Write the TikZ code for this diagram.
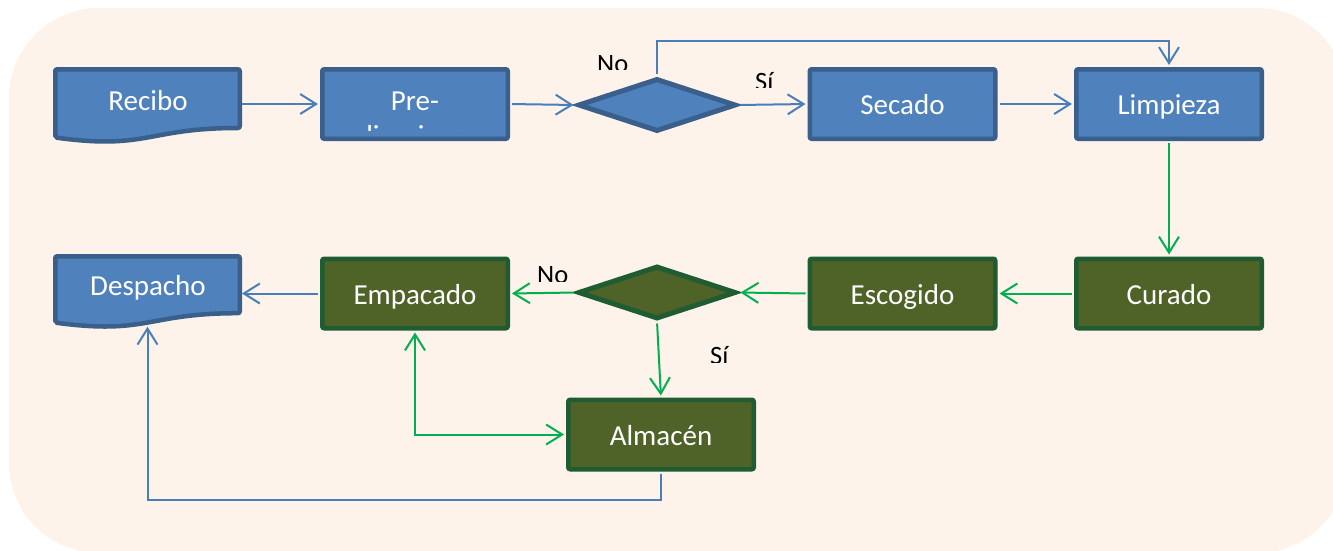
\documentclass[tikz,border=0pt]{standalone}
\usepackage{fontspec}
\setmainfont{Carlito}
\usetikzlibrary{arrows.meta,shapes.geometric}
\definecolor{bgc}{HTML}{FEF3EA}
\definecolor{bfill}{HTML}{4F81BD}
\definecolor{bdraw}{HTML}{3A5F8B}
\definecolor{gfill}{HTML}{4F6228}
\definecolor{gdraw}{HTML}{1F5C32}
\definecolor{glinec}{HTML}{00B050}
\definecolor{blinec}{HTML}{4A7EBB}
\newcommand\bxfont{\fontsize{29}{35}\selectfont}
\newcommand\lbfont{\fontsize{26.5}{31}\selectfont}
\tikzset{
  proc/.style={rectangle, line width=4.5pt, rounded corners=2pt,
    minimum width=185.5pt, minimum height=69.5pt, inner sep=0pt,
    text=white, font=\bxfont, text height=21pt, text depth=0pt},
  bluebox/.style={proc, draw=bdraw, fill=bfill},
  greenbox/.style={proc, draw=gdraw, fill=gfill},
  dec/.style={diamond, line width=5pt, minimum width=158pt, minimum height=53pt, inner sep=0pt},
  bdec/.style={dec, draw=bdraw, fill=bfill},
  gdec/.style={dec, draw=gdraw, fill=gfill},
  docshape/.style={line width=4.5pt, draw=bdraw, fill=bfill, rounded corners=2pt},
  ghost/.style={rectangle, inner sep=0pt, minimum width=184.5pt},
  doctext/.style={text=white, font=\bxfont, anchor=base},
  lbl/.style={text=black, font=\lbfont, inner sep=0pt},
  tipstyle/.style={-{Straight Barb[length=16pt,width=20pt]}},
  bconn/.style={draw=blinec, line width=2pt, tipstyle, shorten >=2pt, shorten <=2pt},
  gconn/.style={draw=glinec, line width=2pt, tipstyle, shorten >=2pt, shorten <=2pt},
}
\begin{document}
\begin{tikzpicture}[x=1pt,y=-1pt]
\useasboundingbox (0,0) rectangle (1333,550);
\fill[bgc, rounded corners=90pt] (9,8) rectangle (1347,553);

% document shapes
\draw[docshape] (55.25,69.25) -- (239.75,69.25) -- (239.75,128.0)
  .. controls (147.5,128.0) and (147.5,150.0) .. (55.25,137.5) -- cycle;
\node[ghost, minimum height=70pt] (recibo) at (147.5,104) {};
\node[doctext] (recibotext) at (148,110) {Recibo};

\draw[docshape] (55.25,256.25) -- (239.75,256.25) -- (239.75,313.2)
  .. controls (147.5,313.2) and (147.5,334.9) .. (55.25,322.6) -- cycle;
\node[ghost, minimum height=68pt] (desp) at (147.5,290.5) {};
\node[doctext] (desptext) at (148,295) {Despacho};

% top row
\node[bluebox] (pre) at (415,104) {};
\node[doctext] (pretext) at (415,110) {Pre-};
\begin{scope}
  \clip (330,112) rectangle (500,130);
  \node[doctext] (pretext2) at (415,145) {limpieza};
\end{scope}
\node[bdec] (d1) at (657,105) {};
\node[bluebox] (sec) at (902.5,104) {Secado};
\node[bluebox] (lim) at (1169,104) {Limpieza};

% bottom row
\node[greenbox] (emp) at (415,293.5) {Empacado};
\node[gdec] (d2) at (657,292.5) {};
\node[greenbox] (esc) at (902.5,293.5) {Escogido};
\node[greenbox] (cur) at (1169,293.5) {Curado};
\node[greenbox] (alm) at (661,434.5) {Almac\'en};

% labels (clipped as in the picture)
\begin{scope}
  \clip (590,40) rectangle (640,69);
  \node[lbl, anchor=base west] (no1) at (597,72) {No};
\end{scope}
\begin{scope}
  \clip (745,60) rectangle (790,87);
  \node[lbl, anchor=base west] (si1) at (755,90) {S\'i};
\end{scope}
\begin{scope}
  \clip (530,255) rectangle (575,281.5);
  \node[lbl, anchor=base west] (no2) at (537,283) {No};
\end{scope}
\begin{scope}
  \clip (700,335) rectangle (745,362);
  \node[lbl, anchor=base west] (si2) at (710,364) {S\'i};
\end{scope}

% connectors
\coordinate (nobend) at (657,41);
\coordinate (almbend) at (661,500);
\draw[bconn] (recibo.east) -- (pre.west);
\draw[bconn] (pre.east) -- (d1.west);
\draw[bconn] (d1.east) -- (sec.west);
\draw[bconn] (d1.north) -- (nobend) -| (lim.north);
\draw[bconn] (sec.east) -- (lim.west);
\draw[gconn] (lim.south) -- (cur.north);
\draw[gconn] (cur.west) -- (esc.east);
\draw[gconn] (esc.west) -- (d2.east);
\draw[gconn] (d2.west) -- (emp.east);
\draw[gconn] (d2.south) -- (alm.north);
\draw[gconn, {Straight Barb[length=16pt,width=20pt]}-{Straight Barb[length=16pt,width=20pt]}] (emp.south) |- (alm.west);
\draw[bconn] (emp.west) -- (emp.west -| desp.east);
\draw[bconn] (alm.south) -- (almbend) -| (desp.south);
\end{tikzpicture}
\end{document}
